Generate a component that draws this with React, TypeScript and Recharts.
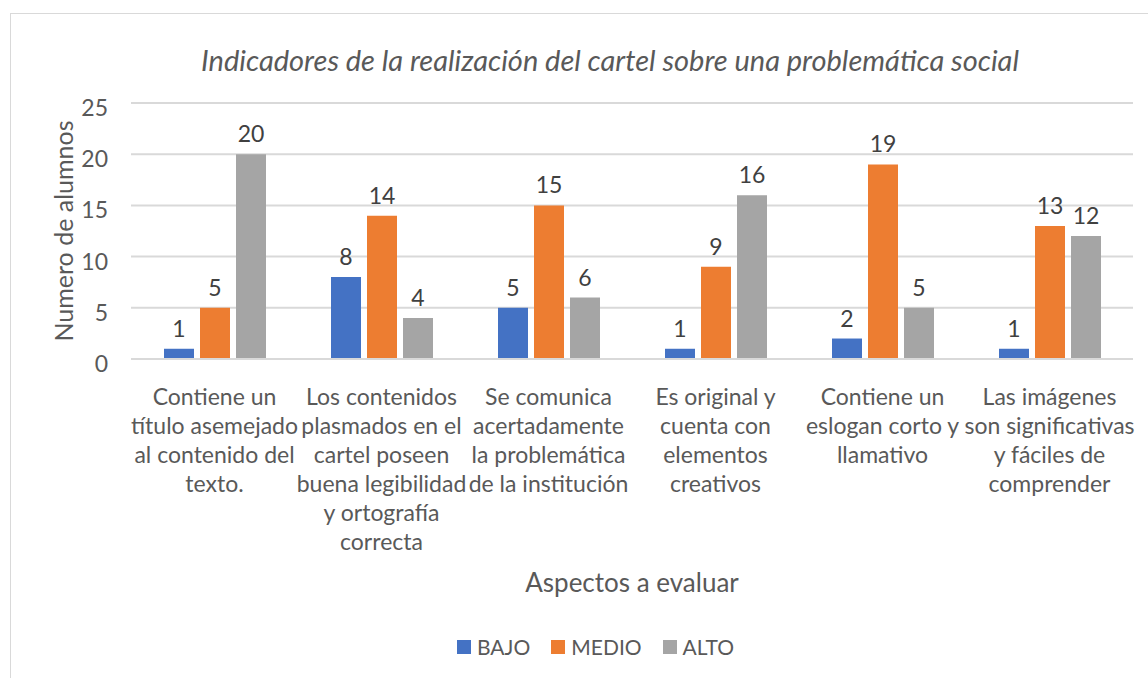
import React from 'react';
import { BarChart, Bar, XAxis, YAxis, CartesianGrid, Legend, LabelList, Label } from 'recharts';

const aspectos = [
    'Contiene un título asemejado al contenido del texto.',
    'Los contenidos plasmados en el cartel poseen buena legibilidad y ortografía correcta',
    'Se comunica acertadamente la problemática de la institución',
    'Es original y cuenta con elementos creativos',
    'Contiene un eslogan corto y llamativo',
    'Las imágenes son significativas y fáciles de comprender',
];

// tick labels as wrapped in the original
const tickLines = [
    ['Contiene un', 'título asemejado', 'al contenido del', 'texto.'],
    ['Los contenidos', 'plasmados en el', 'cartel poseen', 'buena legibilidad', 'y ortografía', 'correcta'],
    ['Se comunica', 'acertadamente', 'la problemática', 'de la institución'],
    ['Es original y', 'cuenta con', 'elementos', 'creativos'],
    ['Contiene un', 'eslogan corto y', 'llamativo'],
    ['Las imágenes', 'son significativas', 'y fáciles de', 'comprender'],
];

const series = ['BAJO', 'MEDIO', 'ALTO'];
const bajo = [1, 8, 5, 1, 2, 1];
const medio = [5, 14, 15, 9, 19, 13];
const alto = [20, 4, 6, 16, 5, 12];

const yTicks = [0, 5, 10, 15, 20, 25];

const data = aspectos.map((aspecto, i) => ({
    aspecto,
    BAJO: bajo[i],
    MEDIO: medio[i],
    ALTO: alto[i],
}));

const FONT = 'Lato, "Open Sans", sans-serif';
const TEXT = '#595959';

const XTick = (props: any) => {
    const { x, y, payload } = props;
    const lines = tickLines[aspectos.indexOf(payload.value)] || [payload.value];
    return (
        <text x={x} y={y + 44} textAnchor="middle" fill={TEXT} fontSize={23} fontFamily={FONT}>
            {lines.map((l: string, i: number) => (
                <tspan key={i} x={x} dy={i === 0 ? 0 : 29}>{l}</tspan>
            ))}
        </text>
    );
};

const YTick = (props: any) => {
    const { y, payload } = props;
    return (
        <text x={108} y={y + 13} textAnchor="end" fill={TEXT} fontSize={23} fontFamily={FONT}>
            {payload.value}
        </text>
    );
};

const LegendContent = (props: any) => {
    const items = [...(props.payload || [])].sort(
        (a: any, b: any) => series.indexOf(a.value) - series.indexOf(b.value)
    );
    return (
        <div style={{ display: 'flex', alignItems: 'center', fontFamily: FONT, fontSize: 21, color: TEXT }}>
            {items.map((p: any) => (
                <div key={p.value} style={{ display: 'flex', alignItems: 'center', marginRight: 21 }}>
                    <span style={{ width: 14, height: 14, background: p.color, marginRight: 6, display: 'inline-block' }} />
                    <span>{p.value}</span>
                </div>
            ))}
        </div>
    );
};

const App: React.FC = () => {
    return (
        <div style={{ position: 'absolute', top: 0, left: 0, width: 1148, height: 678, overflow: 'hidden', background: '#fff' }}>
            <div style={{ position: 'absolute', left: 10, top: 13, width: 1200, height: 720, border: '1px solid #d9d9d9' }} />
            <div
                style={{
                    position: 'absolute', left: 0, top: 44, width: 1220, textAlign: 'center',
                    fontFamily: FONT, fontStyle: 'italic', fontSize: 29, lineHeight: '32px', color: TEXT,
                }}
            >
                Indicadores de la realización del cartel sobre una problemática social
            </div>
            <div style={{ position: 'absolute', top: 0, left: 0 }}>
                <BarChart
                    width={1148}
                    height={678}
                    data={data}
                    margin={{ top: 103, right: 15, left: 0, bottom: 79 }}
                    barSize={30}
                    barGap={6}
                >
                    <CartesianGrid vertical={false} stroke="#d9d9d9" strokeWidth={2} />
                    <XAxis
                        dataKey="aspecto"
                        height={240}
                        interval={0}
                        tickLine={false}
                        tickSize={0}
                        axisLine={{ stroke: '#d9d9d9', strokeWidth: 2 }}
                        tick={<XTick />}
                    >
                        <Label value="Aspectos a evaluar" position="insideBottom" offset={7} fill={TEXT} fontSize={26} fontFamily={FONT} />
                    </XAxis>
                    <YAxis
                        width={131}
                        domain={[0, 25]}
                        ticks={yTicks}
                        axisLine={false}
                        tickLine={false}
                        tick={<YTick />}
                    >
                        <Label value="Numero de alumnos" angle={-90} position="center" dx={-1} fill={TEXT} fontSize={25} fontFamily={FONT} />
                    </YAxis>
                    <Legend
                        verticalAlign="middle"
                        align="center"
                        content={<LegendContent />}
                        wrapperStyle={{ top: 634, left: 457, width: 320, height: 26 }}
                    />
                    <Bar dataKey="BAJO" fill="#4472C4" isAnimationActive={false}>
                        <LabelList dataKey="BAJO" position="top" offset={12} fill="#404040" fontSize={23} fontFamily={FONT} />
                    </Bar>
                    <Bar dataKey="MEDIO" fill="#ED7D31" isAnimationActive={false}>
                        <LabelList dataKey="MEDIO" position="top" offset={12} fill="#404040" fontSize={23} fontFamily={FONT} />
                    </Bar>
                    <Bar dataKey="ALTO" fill="#A5A5A5" isAnimationActive={false}>
                        <LabelList dataKey="ALTO" position="top" offset={12} fill="#404040" fontSize={23} fontFamily={FONT} />
                    </Bar>
                </BarChart>
            </div>
        </div>
    );
};

export default App;
